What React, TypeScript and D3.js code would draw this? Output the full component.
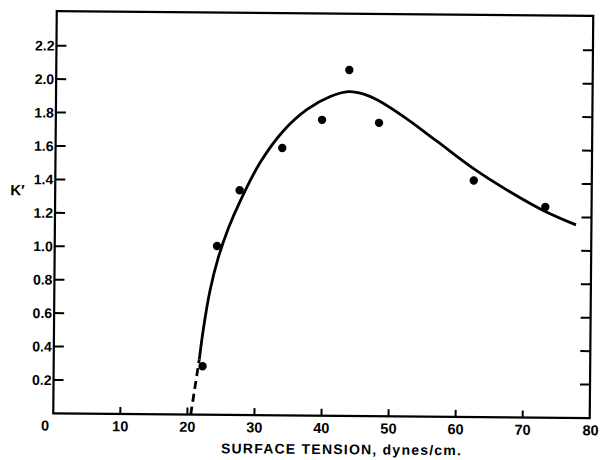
import React from "react";
import * as d3 from "d3";

// Measured data points (surface tension, K')
const pointX = [22.2, 24.2, 27.5, 33.8, 39.7, 43.7, 48.2, 62.4, 73.1];
const pointY = [0.29, 1.01, 1.345, 1.6, 1.77, 2.07, 1.755, 1.415, 1.26];

// Fitted curve (solid part)
const curveX = [21.7, 22.3, 23.2, 24.4, 25.9, 27.6, 30.5, 33.9, 37.4, 40.9, 43.6, 46.0, 48.0, 51.8, 56.8, 62.3, 67.8, 72.8, 77.7];
const curveY = [0.33, 0.52, 0.74, 0.94, 1.12, 1.28, 1.51, 1.7, 1.83, 1.91, 1.94, 1.925, 1.89, 1.795, 1.65, 1.488, 1.35, 1.24, 1.155];

// Extrapolated (dashed) part
const dashX = [20.5, 21.7];
const dashY = [0.0, 0.33];

const xTickLabels = [0, 10, 20, 30, 40, 50, 60, 70, 80];
const xTickMarks = [10, 20, 30, 40, 50, 60, 70];
const yTicks = [0.2, 0.4, 0.6, 0.8, 1.0, 1.2, 1.4, 1.6, 1.8, 2.0, 2.2];

const xTitle = "SURFACE TENSION, dynes/cm.";
const yTitle = "K\u2032";

export default function App() {
  const left = 55, right = 591.5, top = 13.5, bottom = 415.7;
  const x = d3.scaleLinear().domain([0, 80]).range([left, right]);
  const y = d3.scaleLinear().domain([0, 2.2]).range([bottom, 48]);

  const line = d3
    .line<[number, number]>()
    .x((d) => x(d[0]))
    .y((d) => y(d[1]))
    .curve(d3.curveCatmullRom.alpha(0.5));

  const curvePts: [number, number][] = curveX.map((v, i) => [v, curveY[i]]);
  const dashPts: [number, number][] = dashX.map((v, i) => [v, dashY[i]]);

  const font = "'Liberation Sans', Arial, sans-serif";

  return (
    <svg
      width={601}
      height={460}
      style={{ position: "absolute", left: 0, top: 0, background: "#fff" }}
    >
      <rect x={0} y={0} width={601} height={460} fill="#fff" />
      <g transform="rotate(0.5, 322, 215)">
        {/* frame */}
        <rect
          x={left}
          y={top}
          width={right - left}
          height={bottom - top}
          fill="none"
          stroke="#000"
          strokeWidth={2.2}
        />
        {/* y ticks left & right */}
        {yTicks.map((t) => (
          <g key={"yt" + t}>
            <line x1={left} x2={left + 10} y1={y(t)} y2={y(t)} stroke="#000" strokeWidth={2} />
            <line x1={right} x2={right - 10} y1={y(t)} y2={y(t)} stroke="#000" strokeWidth={2} />
            <text
              x={left - 2}
              y={y(t)}
              dy="0.36em"
              textAnchor="end"
              fontFamily={font}
              fontWeight={700}
              fontSize={14}
              fill="#000"
            >
              {t.toFixed(1)}
            </text>
          </g>
        ))}
        {/* x ticks */}
        {xTickMarks.map((t) => (
          <line key={"xt" + t} x1={x(t)} x2={x(t)} y1={bottom} y2={bottom - 7} stroke="#000" strokeWidth={2} />
        ))}
        {xTickLabels.map((t) => (
          <text
            key={"xl" + t}
            x={x(t) + (t === 0 ? -8 : t === 80 ? 1 : 0)}
            y={433}
            textAnchor="middle"
            fontFamily={font}
            fontWeight={700}
            fontSize={14.5}
            fill="#000"
          >
            {t}
          </text>
        ))}
        {/* titles */}
        <text
          x={343}
          y={454}
          textAnchor="middle"
          fontFamily={font}
          fontWeight={700}
          fontSize={14}
          textLength={240}
          lengthAdjust="spacing"
          fill="#000"
        >
          {xTitle}
        </text>
        <text x={10} y={198} fontFamily={font} fontWeight={700} fontSize={15} fill="#000">
          {yTitle}
        </text>
        {/* curve */}
        <path d={line(curvePts) || ""} fill="none" stroke="#000" strokeWidth={2.8} />
        <path
          d={line(dashPts) || ""}
          fill="none"
          stroke="#000"
          strokeWidth={2.8}
          strokeDasharray="8,5"
        />
        {/* points */}
        {pointX.map((v, i) => (
          <circle key={"p" + i} cx={x(v)} cy={y(pointY[i])} r={4.2} fill="#000" />
        ))}
      </g>
    </svg>
  );
}
